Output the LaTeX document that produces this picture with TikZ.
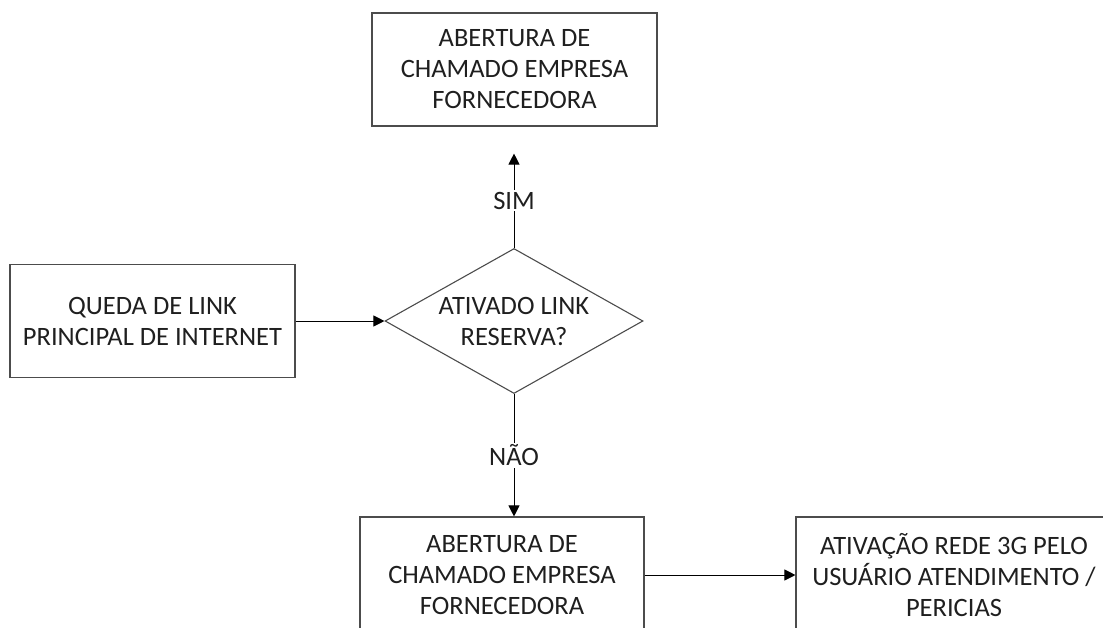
\documentclass[tikz,border=0pt]{standalone}
\usepackage{fontspec}
\setmainfont{Carlito}
\usetikzlibrary{shapes.geometric,arrows.meta}
\begin{document}
\begin{tikzpicture}[x=1pt,y=-1pt,
  every node/.style={font=\fontsize{26.5}{31}\selectfont, text=black!88, align=center},
  stepbox/.style={draw=black!70, line width=1.1pt, rectangle, inner sep=0pt},
  decision/.style={draw=black!70, line width=1.1pt, diamond, inner sep=0pt, aspect=1.78,
    minimum width=258pt, minimum height=145pt},
  flow/.style={draw=black, line width=1pt, -{Triangle[length=11pt,width=11pt]}},
  tag/.style={fill=white, inner sep=2pt}]
\useasboundingbox (0,0) rectangle (1103,627);
\clip (0,0) rectangle (1103,627);

% process boxes
\node[stepbox, minimum width=285pt, minimum height=113pt] (call1) at (514.5,69.5)
  {ABERTURA DE\\CHAMADO EMPRESA\\FORNECEDORA};
\node[stepbox, minimum width=285pt, minimum height=113pt] (drop) at (152.5,321)
  {QUEDA DE LINK\\PRINCIPAL DE INTERNET};
\node[decision] (backup) at (514,321) {ATIVADO LINK\\RESERVA?};
\node[stepbox, minimum width=284pt, minimum height=116pt] (call2) at (502,575)
  {ABERTURA DE\\CHAMADO EMPRESA\\FORNECEDORA};
\node[stepbox, minimum width=316pt, minimum height=116pt] (mobile) at (954,575)
  {ATIVAÇÃO REDE 3G PELO\\USUÁRIO ATENDIMENTO /\\PERICIAS};

% connectors
\draw[flow] (drop.east) -- (backup.west);
\draw[flow] (backup.north) -- node[tag] {SIM} ([yshift=-27pt]call1.south -| backup.north);
\draw[flow] (backup.south) -- node[tag] {NÃO} (call2.north -| backup.south);
\draw[flow] (call2.east) -- (mobile.west);
\end{tikzpicture}
\end{document}
